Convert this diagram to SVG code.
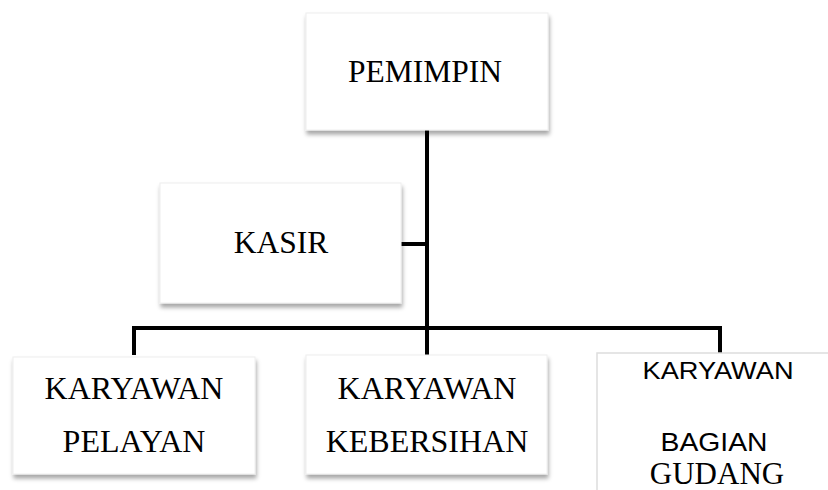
<svg xmlns="http://www.w3.org/2000/svg" width="828" height="490" viewBox="0 0 828 490">
<defs>
<filter id="sh" x="-10%" y="-10%" width="125%" height="130%">
<feDropShadow dx="1" dy="4" stdDeviation="2" flood-color="#000" flood-opacity="0.35"/>
</filter>
<style>
.box{fill:#fff;stroke:#eee;stroke-width:1;filter:url(#sh)}
.serif{font-family:"Liberation Serif","Times New Roman",serif;fill:#000;text-anchor:middle}
.sans{font-family:"Liberation Sans",Arial,sans-serif;fill:#000;text-anchor:middle}
.ln{stroke:#000;stroke-width:4;fill:none}
</style>
</defs>
<rect width="828" height="490" fill="#fff"/>
<g id="connectors">
<line class="ln" x1="427" y1="130" x2="427" y2="355"/>
<line class="ln" x1="401" y1="244" x2="427" y2="244"/>
<polyline class="ln" points="134,355 134,328 720,328 720,353"/>
</g>
<g id="pemimpin">
<rect class="box" x="306" y="13" width="242" height="117"/>
<text class="serif" x="425" y="82" font-size="31.5">PEMIMPIN</text>
</g>
<g id="kasir">
<rect class="box" x="160" y="183" width="241" height="120"/>
<text class="serif" x="281" y="253" font-size="31.5">KASIR</text>
</g>
<g id="pelayan">
<rect class="box" x="13" y="357" width="242" height="117"/>
<text class="serif" x="134" y="399" font-size="32">KARYAWAN</text>
<text class="serif" x="134" y="452" font-size="32">PELAYAN</text>
</g>
<g id="kebersihan">
<rect class="box" x="306" y="355" width="241" height="119"/>
<text class="serif" x="427" y="399" font-size="32">KARYAWAN</text>
<text class="serif" x="427" y="452" font-size="32">KEBERSIHAN</text>
</g>
<g id="gudang">
<rect x="597" y="353" width="240" height="150" fill="#fff" stroke="#ddd" stroke-width="1.5"/>
<text class="sans" x="718" y="379" font-size="24" textLength="151" lengthAdjust="spacingAndGlyphs">KARYAWAN</text>
<text class="sans" x="714" y="451" font-size="26" textLength="107" lengthAdjust="spacingAndGlyphs">BAGIAN</text>
<text class="serif" x="717" y="484" font-size="31">GUDANG</text>
</g>
</svg>
